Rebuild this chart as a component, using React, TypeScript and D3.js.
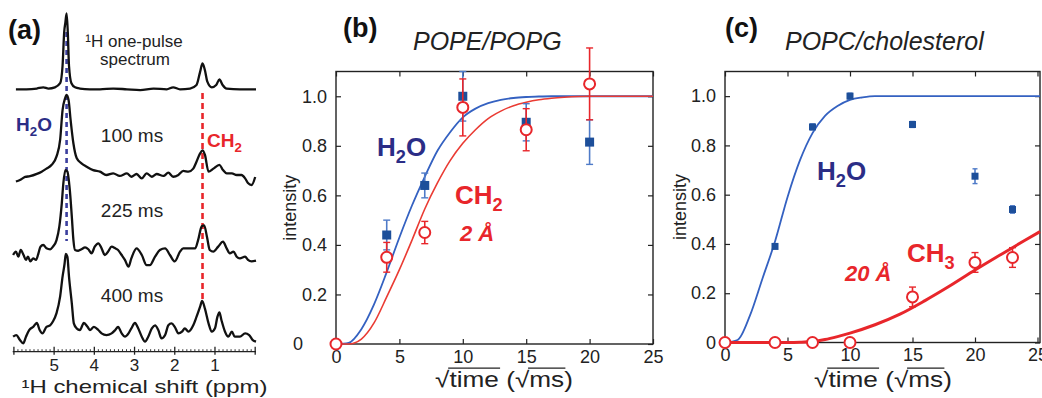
import React, { useEffect, useRef } from 'react';
import * as d3 from 'd3';

// ---------- (a) 1H spectra, [ppm, intensity a.u.] ----------
const onePulse: [number, number][] = [
  [5.95, 0], [5.69, 0], [5.43, 1], [5.27, 2.6], [5.14, 1], [4.98, 2.6], [4.85, 8], [4.79, 31], [4.75, 75],
  [4.72, 88], [4.69, 100], [4.66, 75], [4.63, 31], [4.57, 8], [4.48, 2.6], [4.36, 1], [4.11, 0], [3.86, 0],
  [3.53, 1], [3.19, 0], [2.86, -1], [2.53, 1], [2.2, 0], [2.04, 2.6], [1.87, 0], [1.62, 1], [1.46, 5.7],
  [1.37, 23], [1.31, 34], [1.25, 25], [1.19, 10], [1.08, 2.6], [0.97, 5.7], [0.89, 13], [0.81, 5.7],
  [0.71, 1], [0.38, 0], [-0.02, 0],
];
const spec100: [number, number][] = [
  [5.95, -2], [5.85, 0], [5.72, 4], [5.6, 5], [5.43, 8], [5.31, 11], [5.19, 15], [5.06, 20], [4.94, 31],
  [4.85, 53], [4.79, 92], [4.73, 107], [4.69, 112], [4.64, 105], [4.59, 79], [4.52, 48], [4.44, 29],
  [4.32, 22], [4.19, 17.5], [4.03, 13], [3.86, 11], [3.7, 6.6], [3.53, 8.8], [3.37, 5.3], [3.19, 8.8],
  [3.08, 4.3], [2.95, 7.9], [2.82, 2.2], [2.7, 8.8], [2.57, 4.3], [2.45, 7.9], [2.28, 5.3], [2.16, 9.6],
  [2.04, 4.3], [1.91, 6.6], [1.79, 12], [1.66, 11], [1.54, 15], [1.46, 24], [1.37, 35], [1.31, 39],
  [1.25, 33], [1.16, 11], [1.04, 15], [0.89, 20], [0.8, 13], [0.71, 8.8], [0.58, 8.8], [0.46, 6.6],
  [0.34, 6.6], [0.25, 2.2], [0.18, -4], [0.09, -6.6], [0.0, 4],
];
const spec225: [number, number][] = [
  [6.02, -6.6], [5.95, -2.2], [5.89, -8.8], [5.83, 0], [5.76, -6.6], [5.7, -13], [5.65, -8.8], [5.59, -15],
  [5.52, -11], [5.45, -13], [5.39, -4.4], [5.34, 4.4], [5.27, 6.6], [5.19, 2.2], [5.1, 0.9], [5.03, 4.4],
  [4.94, 13], [4.87, 31], [4.81, 61], [4.77, 88], [4.72, 105], [4.67, 103], [4.61, 79], [4.56, 44],
  [4.52, 13], [4.48, 0], [4.4, -1], [4.32, 1], [4.23, 3.5], [4.15, 1], [4.07, -4.4], [3.99, 4.4],
  [3.9, 8.8], [3.82, 2.2], [3.74, -6.6], [3.66, -2.2], [3.57, 4.4], [3.48, 2.2], [3.41, 0], [3.32, -6.6],
  [3.24, -13], [3.15, -22], [3.08, -11], [2.95, 2.2], [2.82, -6.6], [2.7, -20], [2.62, -20], [2.49, -8.8],
  [2.37, 0], [2.24, 2.2], [2.12, -6.6], [2.0, -15], [1.87, -2.2], [1.79, 2.2], [1.62, 2.2], [1.49, 2.2],
  [1.42, 13], [1.33, 31], [1.27, 32.5], [1.2, 17.5], [1.13, 0], [1.04, -2.2], [0.92, 4.4], [0.8, 11],
  [0.71, 2.2], [0.63, -4.4], [0.54, -2.2], [0.46, -8.8], [0.38, -11], [0.25, -8.8], [0.18, -13],
  [0.09, -15], [-0.02, -14],
];
const spec400: [number, number][] = [
  [6.02, 0], [5.94, 2.2], [5.85, -4.4], [5.77, -8.8], [5.7, 0], [5.62, 8.8], [5.52, 13], [5.43, 18],
  [5.36, 8.8], [5.29, 4.4], [5.19, 13], [5.1, 15], [5.03, 20], [4.94, 31], [4.85, 53], [4.79, 79],
  [4.74, 96], [4.71, 109], [4.67, 105], [4.63, 79], [4.56, 44], [4.51, 17.5], [4.44, 11], [4.36, 8.8],
  [4.26, 18], [4.17, 13], [4.11, 8.8], [4.01, 13], [3.9, 8.8], [3.82, 4.4], [3.7, 2.2], [3.57, 4.4],
  [3.48, 8.8], [3.41, 13], [3.32, 4.4], [3.24, 0], [3.15, 4.4], [3.08, 11], [2.99, 18], [2.91, 11],
  [2.82, 0], [2.74, -6.6], [2.66, 0], [2.57, 11], [2.49, 15], [2.41, 8.8], [2.33, -2.2], [2.24, 2.2],
  [2.16, 15], [2.08, 17.5], [2.0, 13], [1.91, 4.4], [1.82, 6.6], [1.75, 11], [1.66, 6.6], [1.54, 15],
  [1.46, 26], [1.37, 39.5], [1.32, 47], [1.25, 37], [1.16, 17.5], [1.08, 6.6], [1.0, 11], [0.94, 26],
  [0.89, 32], [0.84, 22], [0.75, 6.6], [0.67, 0], [0.58, 6.6], [0.51, 0], [0.38, 0], [0.25, 4.4],
  [0.15, 2.2], [0.06, -4.4], [-0.02, -6.6],
];
const spectra = [onePulse, spec100, spec225, spec400];
const mixLabels = ['100 ms', '225 ms', '400 ms'];
const h2oShift = 4.69;
const ch2Shift = 1.31;
const ppmTicks = [6, 5, 4, 3, 2, 1, 0];
const ppmLabels = [5, 4, 3, 2, 1];

// ---------- (b) POPE/POPG ----------
const timeTicks = [0, 5, 10, 15, 20, 25];
const intensityTicks = [0, 0.2, 0.4, 0.6, 0.8, 1.0];
const tH2oB = [4, 7, 10, 15, 20];
const h2oB = [0.44, 0.64, 1.0, 0.895, 0.815];
const h2oErrB = [0.06, 0.05, 0.1, 0.075, 0.09];
const tCh2B = [0, 4, 7, 10, 15, 20];
const ch2B = [0, 0.35, 0.45, 0.955, 0.865, 1.05];
const ch2ErrB = [0, 0.06, 0.045, 0.115, 0.085, 0.145];
const fitTB = [0, 1, 2, 3, 4, 5, 6, 7, 8, 9, 10, 11, 12, 13, 14, 15, 16, 17, 18, 20, 25];
const fitH2oB = [0, 0.005, 0.06, 0.16, 0.29, 0.43, 0.56, 0.675, 0.78, 0.855, 0.915, 0.95, 0.972, 0.985, 0.993, 0.997, 0.999, 1, 1, 1, 1];
const fitCh2B = [0, 0, 0.02, 0.085, 0.19, 0.3, 0.42, 0.545, 0.65, 0.74, 0.81, 0.865, 0.91, 0.94, 0.962, 0.976, 0.986, 0.992, 0.996, 1, 1];

// ---------- (c) POPC/cholesterol ----------
const tH2oC = [4, 7, 10, 15, 20, 23];
const h2oC = [0.39, 0.875, 1.0, 0.885, 0.675, 0.54];
const h2oErrC = [0.005, 0.012, 0.012, 0.012, 0.03, 0.015];
const tCh3C = [0, 4, 7, 10, 15, 20, 23];
const ch3C = [0, 0, 0, 0, 0.185, 0.325, 0.345];
const ch3ErrC = [0, 0, 0, 0, 0.04, 0.04, 0.04];
const fitTH2oC = [0, 1, 2, 3, 4, 5, 6, 7, 8, 9, 10, 11, 12, 25.2];
const fitH2oC = [0, 0.01, 0.11, 0.26, 0.41, 0.59, 0.74, 0.85, 0.92, 0.96, 0.985, 0.995, 1, 1];
const fitTCh3C = [0, 5, 6, 7, 8, 9, 10, 12, 14, 16, 18, 20, 22, 24, 25.2];
const fitCh3C = [0, 0, 0.001, 0.004, 0.012, 0.024, 0.038, 0.072, 0.115, 0.17, 0.23, 0.294, 0.355, 0.415, 0.45];

const FONT = 'Liberation Sans, Arial, Helvetica, sans-serif';
const INK = '#222';
const NAVY = '#2b2d86';
const RED = '#e8262b';
const BLUE_LINE = '#3461c1';
const BLUE_MARK = '#1d4f9a';
const BLUE_ERR = '#4f7bc8';

type Sel = d3.Selection<SVGGElement, unknown, null, undefined>;

// text with subscript pieces, e.g. H, 2 (sub), O
function chem(g: Sel, x: number, y: number, parts: [string, boolean][], size: number, color: string, italic = false) {
  const t = g.append('text').attr('x', x).attr('y', y).attr('font-size', size).attr('font-weight', 'bold')
    .attr('font-family', FONT).attr('fill', color).attr('font-style', italic ? 'italic' : 'normal');
  let sub = false;
  parts.forEach(([s, isSub]) => {
    const sp = t.append('tspan').text(s);
    if (isSub && !sub) sp.attr('dy', size * 0.28).attr('font-size', size * 0.7);
    else if (isSub) sp.attr('font-size', size * 0.7);
    else if (!isSub && sub) sp.attr('dy', -size * 0.28);
    sub = isSub;
  });
  return t;
}

// text squeezed/stretched horizontally to a given width
function wideText(g: Sel, cx: number, y: number, size: number, width: number, s: string) {
  const wrap = g.append('g');
  const t = wrap.append('text').attr('x', 0).attr('y', 0).attr('font-size', size).attr('font-family', FONT)
    .attr('fill', INK).text(s);
  const node = t.node() as SVGTextElement;
  const total = node.getComputedTextLength();
  wrap.attr('transform', `translate(${cx - width / 2},${y}) scale(${width / total},1)`);
  return { wrap, node };
}

function sqrtLabel(g: Sel, cx: number, y: number, size: number, width: number) {
  const { wrap, node } = wideText(g, cx, y, size, width, '\u221Atime (\u221Ams)');
  const oy = -size * 0.86;
  const seg = (a: number, b: number) => {
    wrap.append('line')
      .attr('x1', node.getSubStringLength(0, a) - 1).attr('x2', node.getSubStringLength(0, b) + 1)
      .attr('y1', oy).attr('y2', oy).attr('stroke', INK).attr('stroke-width', 1.4);
  };
  seg(1, 5);
  seg(8, 10);
}

interface PanelCfg {
  left: number; right: number; top: number; bottom: number; xMax: number;
  title: string; letter: string; letterX: number; titleX: number; ylabX: number;
  xlabCx: number; zeroShift: number;
}

function drawFrame(g: Sel, c: PanelCfg) {
  const x = d3.scaleLinear().domain([0, c.xMax]).range([c.left, c.right]);
  const y = d3.scaleLinear().domain([0, 1.1]).range([c.bottom, c.top]);
  const style = (s: Sel) => {
    s.attr('font-size', 18).attr('font-family', FONT).attr('color', INK);
    s.select('.domain').remove();
    s.selectAll('line').attr('stroke-width', 1.2);
  };
  g.append('g').attr('transform', `translate(0,${c.bottom})`)
    .call(d3.axisBottom(x).tickValues(timeTicks).tickSize(-5).tickSizeOuter(0).tickPadding(6).tickFormat(d3.format('d')))
    .call(style);
  g.append('g').attr('transform', `translate(0,${c.top})`)
    .call(d3.axisTop(x).tickValues(timeTicks).tickSize(-5).tickSizeOuter(0).tickFormat(() => ''))
    .call(style);
  const yAxis = g.append('g').attr('transform', `translate(${c.left},0)`)
    .call(d3.axisLeft(y).tickValues(intensityTicks).tickSize(-5).tickSizeOuter(0).tickPadding(9)
      .tickFormat((d) => (+d === 0 ? '0' : d3.format('.1f')(+d))))
    .call(style);
  yAxis.selectAll<SVGTextElement, number>('text').filter((d) => d === 0).attr('dx', c.zeroShift);
  g.append('g').attr('transform', `translate(${c.right},0)`)
    .call(d3.axisRight(y).tickValues(intensityTicks).tickSize(-5).tickSizeOuter(0).tickFormat(() => ''))
    .call(style);
  g.append('rect').attr('x', c.left).attr('y', c.top).attr('width', c.right - c.left).attr('height', c.bottom - c.top)
    .attr('fill', 'none').attr('stroke', INK).attr('stroke-width', 1.4);

  g.append('text').attr('x', c.letterX).attr('y', 37).attr('font-size', 27).attr('font-weight', 'bold')
    .attr('font-family', FONT).attr('fill', '#111').text(c.letter);
  g.append('text').attr('x', c.titleX).attr('y', 50).attr('font-size', 25).attr('font-style', 'italic')
    .attr('font-family', FONT).attr('fill', INK).text(c.title);
  g.append('text').attr('transform', `translate(${c.ylabX},${(c.top + c.bottom) / 2}) rotate(-90)`)
    .attr('text-anchor', 'middle').attr('font-size', 18).attr('font-family', FONT).attr('fill', INK).text('intensity');
  sqrtLabel(g, c.xlabCx, 387, 22, 138);
  return { x, y };
}

function fitLine(g: Sel, x: d3.ScaleLinear<number, number>, y: d3.ScaleLinear<number, number>, ts: number[], vs: number[], color: string, w: number) {
  const line = d3.line<number>().x((_, i) => x(ts[i])).y((d) => y(d)).curve(d3.curveMonotoneX);
  g.append('path').datum(vs).attr('d', line).attr('fill', 'none').attr('stroke', color).attr('stroke-width', w);
}

function errBars(g: Sel, x: d3.ScaleLinear<number, number>, y: d3.ScaleLinear<number, number>, ts: number[], vs: number[], es: number[], color: string, cap: number) {
  ts.forEach((t, i) => {
    if (!es[i]) return;
    const cx = x(t);
    const y1 = y(vs[i] - es[i]);
    const y2 = y(vs[i] + es[i]);
    g.append('line').attr('x1', cx).attr('x2', cx).attr('y1', y1).attr('y2', y2).attr('stroke', color).attr('stroke-width', 1.6);
    [y1, y2].forEach((yy) => g.append('line').attr('x1', cx - cap).attr('x2', cx + cap).attr('y1', yy).attr('y2', yy)
      .attr('stroke', color).attr('stroke-width', 1.4));
  });
}

function squares(g: Sel, x: d3.ScaleLinear<number, number>, y: d3.ScaleLinear<number, number>, ts: number[], vs: number[], s: number) {
  g.selectAll(null).data(vs).enter().append('rect')
    .attr('x', (_, i) => x(ts[i]) - s / 2).attr('y', (d) => y(d) - s / 2).attr('width', s).attr('height', s)
    .attr('fill', BLUE_MARK);
}

function circles(g: Sel, x: d3.ScaleLinear<number, number>, y: d3.ScaleLinear<number, number>, ts: number[], vs: number[], r: number) {
  g.selectAll(null).data(vs).enter().append('circle')
    .attr('cx', (_, i) => x(ts[i])).attr('cy', (d) => y(d)).attr('r', r)
    .attr('fill', '#fff').attr('stroke', RED).attr('stroke-width', 2);
}

const App: React.FC = () => {
  const ref = useRef<SVGSVGElement | null>(null);

  useEffect(() => {
    if (!ref.current) return;
    const svg = d3.select(ref.current);
    svg.selectAll('*').remove();

    // ---------------- panel (a) ----------------
    const ga = svg.append('g') as unknown as Sel;
    const xa = d3.scaleLinear().domain([6.03, -0.02]).range([12.7, 256]);
    const ha = d3.scaleLinear().domain([0, 100]).range([0, 76]);
    const baselines = [89.3, 180, 250, 336.7];
    const axisY = 351.7;

    ga.append('line').attr('x1', xa(h2oShift)).attr('x2', xa(h2oShift)).attr('y1', 32).attr('y2', 241)
      .attr('stroke', '#3b3f9e').attr('stroke-width', 2.6).attr('stroke-dasharray', '5,4');
    ga.append('line').attr('x1', xa(ch2Shift)).attr('x2', xa(ch2Shift)).attr('y1', 93).attr('y2', 300)
      .attr('stroke', RED).attr('stroke-width', 2.6).attr('stroke-dasharray', '6,4');

    spectra.forEach((sp, i) => {
      const line = d3.line<[number, number]>().x((d) => xa(d[0])).y((d) => baselines[i] - ha(d[1])).curve(d3.curveMonotoneX);
      ga.append('path').datum(sp).attr('d', line).attr('fill', 'none').attr('stroke', '#111')
        .attr('stroke-width', 2.3).attr('stroke-linejoin', 'round');
    });

    // ppm axis
    ga.append('line').attr('x1', xa(6.03)).attr('x2', xa(-0.02)).attr('y1', axisY).attr('y2', axisY)
      .attr('stroke', INK).attr('stroke-width', 1.3);
    d3.range(0, 60.5, 1).forEach((k) => {
      const p = k / 10;
      const major = k % 10 === 0;
      ga.append('line').attr('x1', xa(p)).attr('x2', xa(p)).attr('y1', axisY).attr('y2', axisY - (major ? 5 : 2.5))
        .attr('stroke', INK).attr('stroke-width', major ? 1.3 : 0.9);
    });
    ppmTicks.forEach((p) => {
      ga.append('line').attr('x1', xa(p)).attr('x2', xa(p)).attr('y1', axisY).attr('y2', axisY + 3)
        .attr('stroke', INK).attr('stroke-width', 1.3);
    });
    ppmLabels.forEach((p) => {
      ga.append('text').attr('x', xa(p)).attr('y', 371).attr('text-anchor', 'middle').attr('font-size', 17)
        .attr('font-family', FONT).attr('fill', INK).text(p);
    });
    wideText(ga, 144.5, 393, 19, 246, '\u00B9H chemical shift (ppm)');

    ga.append('text').attr('x', 8).attr('y', 39).attr('font-size', 27).attr('font-weight', 'bold')
      .attr('font-family', FONT).attr('fill', '#111').text('(a)');
    ga.append('text').attr('x', 134).attr('y', 47).attr('text-anchor', 'middle').attr('font-size', 17)
      .attr('font-family', FONT).attr('fill', INK).text('\u00B9H one-pulse');
    ga.append('text').attr('x', 135).attr('y', 65).attr('text-anchor', 'middle').attr('font-size', 17)
      .attr('font-family', FONT).attr('fill', INK).text('spectrum');
    const mixY = [141.7, 216.7, 301.7];
    mixLabels.forEach((s, i) => {
      ga.append('text').attr('x', 132).attr('y', mixY[i]).attr('text-anchor', 'middle').attr('font-size', 19)
        .attr('font-family', FONT).attr('fill', INK).text(s);
    });
    chem(ga, 16, 131, [['H', false], ['2', true], ['O', false]], 19, NAVY);
    chem(ga, 207, 147, [['CH', false], ['2', true]], 19, RED);

    // ---------------- panel (b) ----------------
    const gb = svg.append('g') as unknown as Sel;
    const b = drawFrame(gb, {
      left: 336, right: 653, top: 71.5, bottom: 344, xMax: 25,
      title: 'POPE/POPG', letter: '(b)', letterX: 343, titleX: 413, ylabX: 296, xlabCx: 504, zeroShift: -24,
    });
    fitLine(gb, b.x, b.y, fitTB, fitH2oB, BLUE_LINE, 1.8);
    fitLine(gb, b.x, b.y, fitTB, fitCh2B, '#ea3b33', 1.6);
    errBars(gb, b.x, b.y, tH2oB, h2oB, h2oErrB, BLUE_ERR, 3.5);
    squares(gb, b.x, b.y, tH2oB, h2oB, 9);
    errBars(gb, b.x, b.y, tCh2B, ch2B, ch2ErrB, RED, 3.5);
    circles(gb, b.x, b.y, tCh2B, ch2B, 5.5);
    chem(gb, 377, 156, [['H', false], ['2', true], ['O', false]], 26, NAVY);
    chem(gb, 455, 204, [['CH', false], ['2', true]], 26, RED);
    chem(gb, 460, 241, [['2 \u00C5', false]], 22, RED, true);

    // ---------------- panel (c) ----------------
    const gc = svg.append('g') as unknown as Sel;
    const c = drawFrame(gc, {
      left: 725, right: 1040, top: 71.5, bottom: 342.5, xMax: 25.2,
      title: 'POPC/cholesterol', letter: '(c)', letterX: 725, titleX: 785, ylabX: 686, xlabCx: 883, zeroShift: 0,
    });
    fitLine(gc, c.x, c.y, fitTH2oC, fitH2oC, BLUE_LINE, 1.8);
    fitLine(gc, c.x, c.y, fitTCh3C, fitCh3C, RED, 3);
    errBars(gc, c.x, c.y, tH2oC, h2oC, h2oErrC, BLUE_ERR, 2.5);
    squares(gc, c.x, c.y, tH2oC, h2oC, 7);
    errBars(gc, c.x, c.y, tCh3C, ch3C, ch3ErrC, RED, 3.5);
    circles(gc, c.x, c.y, tCh3C, ch3C, 5.5);
    chem(gc, 817, 180, [['H', false], ['2', true], ['O', false]], 26, NAVY);
    chem(gc, 907, 262, [['CH', false], ['3', true]], 26, RED);
    chem(gc, 845, 281, [['20 \u00C5', false]], 22, RED, true);
  }, []);

  return <svg ref={ref} width={1042} height={398} style={{ position: 'absolute', left: 0, top: 0, background: '#fff' }} />;
};

export default App;
